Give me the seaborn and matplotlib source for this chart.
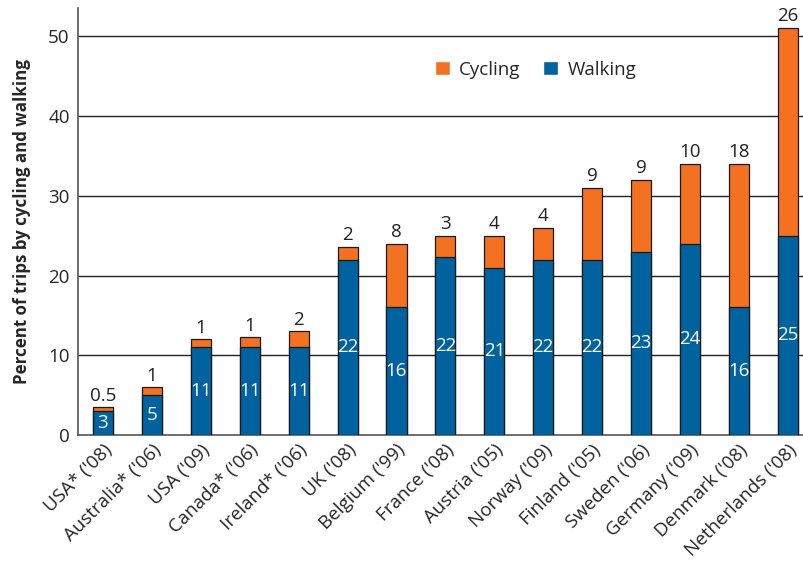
import pandas as pd
import matplotlib
matplotlib.use("Agg")
import matplotlib.pyplot as plt
from matplotlib.patches import Patch
import seaborn as sns

# Data
countries = ["USA* ('08)", "Australia* ('06)", "USA ('09)", "Canada* ('06)", "Ireland* ('06)",
             "UK ('08)", "Belgium ('99)", "France ('08)", "Austria ('05)", "Norway ('09)",
             "Finland ('05)", "Sweden ('06)", "Germany ('09)", "Denmark ('08)", "Netherlands ('08)"]
walking = [3, 5, 11, 11, 11, 22, 16, 22.3, 21, 22, 22, 23, 24, 16, 25]
cycling = [0.5, 1, 1, 1.3, 2, 1.6, 8, 2.7, 4, 4, 9, 9, 10, 18, 26]
walking_labels = ["3", "5", "11", "11", "11", "22", "16", "22", "21", "22", "22", "23", "24", "16", "25"]
cycling_labels = ["0.5", "1", "1", "1", "2", "2", "8", "3", "4", "4", "9", "9", "10", "18", "26"]

df = pd.DataFrame({"country": countries, "walking": walking, "cycling": cycling})
df["total"] = df["walking"] + df["cycling"]

sns.set_style("white")
plt.rcParams["font.family"] = ["Open Sans", "DejaVu Sans"]

blue = "#00629e"
orange = "#f37121"

fig = plt.figure(figsize=(8.04, 5.61), dpi=100)
ax = fig.add_axes([0.097, 0.224, 0.903, 0.762])

# grid lines behind the bars
for y in [10, 20, 30, 40, 50]:
    ax.axhline(y, color="#222222", lw=1.0, zorder=0)

sns.barplot(data=df, x="country", y="total", color=orange, saturation=1, width=0.41,
            edgecolor="#1a1a1a", linewidth=0.9, ax=ax, zorder=2)
sns.barplot(data=df, x="country", y="walking", color=blue, saturation=1, width=0.41,
            edgecolor="#1a1a1a", linewidth=0.9, ax=ax, zorder=3)

# value labels
for i, row in df.iterrows():
    ax.text(i, row["walking"] / 2, walking_labels[i], ha="center", va="center",
            color="white", fontsize=13.5, zorder=4)
    ax.text(i, row["total"] + 0.3, cycling_labels[i], ha="center", va="bottom",
            color="#222222", fontsize=13.5, zorder=4)

ax.set_xlim(-0.51, 14.33)
ax.set_ylim(0, 53.5)
ax.set_yticks([0, 10, 20, 30, 40, 50])
ax.tick_params(axis="y", labelsize=13.5, length=0, pad=6)
ax.tick_params(axis="x", labelsize=13.5, length=0, pad=4)
plt.setp(ax.get_xticklabels(), rotation=45, ha="right", rotation_mode="anchor")
ax.set_xlabel("")
ax.set_ylabel("Percent of trips by cycling and walking", fontsize=12.2,
              fontweight="bold", labelpad=12)

for side in ["top", "right"]:
    ax.spines[side].set_visible(False)
for side in ["left", "bottom"]:
    ax.spines[side].set_color("#555555")
    ax.spines[side].set_linewidth(1.2)

handles = [Patch(facecolor=orange, label="Cycling"), Patch(facecolor=blue, label="Walking")]
ax.legend(handles=handles, ncol=2, frameon=False, fontsize=13.5, loc="center",
          bbox_to_anchor=(0.63, 0.855), handlelength=0.8, handleheight=0.8,
          handletextpad=0.5, columnspacing=1.2)

fig.savefig("out.png", dpi=100)
